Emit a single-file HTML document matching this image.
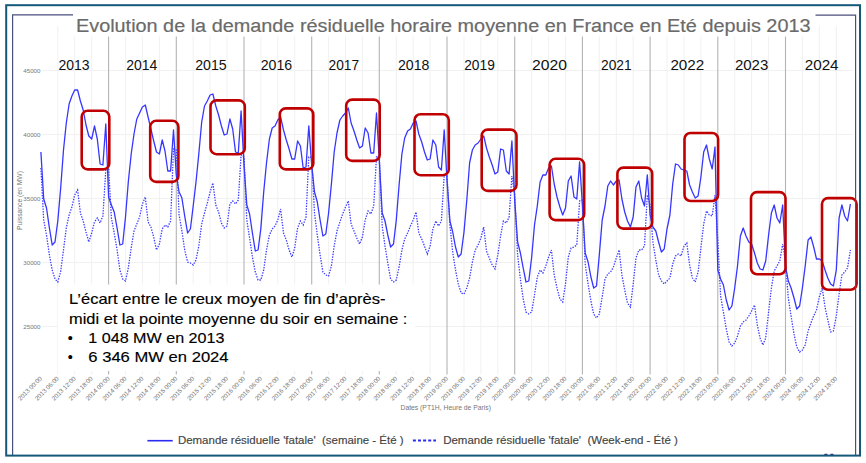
<!DOCTYPE html><html><head><meta charset="utf-8"><style>html,body{margin:0;padding:0;background:#fff;}body{width:866px;height:463px;overflow:hidden;}svg{display:block;}text{font-family:"Liberation Sans",sans-serif;}</style></head><body>
<svg width="866" height="463" viewBox="0 0 866 463">
<rect x="0" y="0" width="866" height="463" fill="#fff"/>
<line x1="42" y1="70.5" x2="853" y2="70.5" stroke="#f1f1f1" stroke-width="1"/>
<line x1="42" y1="134.5" x2="853" y2="134.5" stroke="#f1f1f1" stroke-width="1"/>
<line x1="42" y1="198.5" x2="853" y2="198.5" stroke="#f1f1f1" stroke-width="1"/>
<line x1="42" y1="262.5" x2="853" y2="262.5" stroke="#f1f1f1" stroke-width="1"/>
<line x1="42" y1="326.5" x2="853" y2="326.5" stroke="#f1f1f1" stroke-width="1"/>
<line x1="57.8" y1="26" x2="57.8" y2="374.5" stroke="#f1f1f1" stroke-width="1"/>
<line x1="74.7" y1="26" x2="74.7" y2="374.5" stroke="#f1f1f1" stroke-width="1"/>
<line x1="91.7" y1="26" x2="91.7" y2="374.5" stroke="#f1f1f1" stroke-width="1"/>
<line x1="125.5" y1="26" x2="125.5" y2="374.5" stroke="#f1f1f1" stroke-width="1"/>
<line x1="142.4" y1="26" x2="142.4" y2="374.5" stroke="#f1f1f1" stroke-width="1"/>
<line x1="159.4" y1="26" x2="159.4" y2="374.5" stroke="#f1f1f1" stroke-width="1"/>
<line x1="193.2" y1="26" x2="193.2" y2="374.5" stroke="#f1f1f1" stroke-width="1"/>
<line x1="210.1" y1="26" x2="210.1" y2="374.5" stroke="#f1f1f1" stroke-width="1"/>
<line x1="227" y1="26" x2="227" y2="374.5" stroke="#f1f1f1" stroke-width="1"/>
<line x1="260.9" y1="26" x2="260.9" y2="374.5" stroke="#f1f1f1" stroke-width="1"/>
<line x1="277.8" y1="26" x2="277.8" y2="374.5" stroke="#f1f1f1" stroke-width="1"/>
<line x1="294.7" y1="26" x2="294.7" y2="374.5" stroke="#f1f1f1" stroke-width="1"/>
<line x1="328.6" y1="26" x2="328.6" y2="374.5" stroke="#f1f1f1" stroke-width="1"/>
<line x1="345.5" y1="26" x2="345.5" y2="374.5" stroke="#f1f1f1" stroke-width="1"/>
<line x1="362.4" y1="26" x2="362.4" y2="374.5" stroke="#f1f1f1" stroke-width="1"/>
<line x1="396.3" y1="26" x2="396.3" y2="374.5" stroke="#f1f1f1" stroke-width="1"/>
<line x1="413.2" y1="26" x2="413.2" y2="374.5" stroke="#f1f1f1" stroke-width="1"/>
<line x1="430.1" y1="26" x2="430.1" y2="374.5" stroke="#f1f1f1" stroke-width="1"/>
<line x1="464" y1="26" x2="464" y2="374.5" stroke="#f1f1f1" stroke-width="1"/>
<line x1="480.9" y1="26" x2="480.9" y2="374.5" stroke="#f1f1f1" stroke-width="1"/>
<line x1="497.8" y1="26" x2="497.8" y2="374.5" stroke="#f1f1f1" stroke-width="1"/>
<line x1="531.7" y1="26" x2="531.7" y2="374.5" stroke="#f1f1f1" stroke-width="1"/>
<line x1="548.6" y1="26" x2="548.6" y2="374.5" stroke="#f1f1f1" stroke-width="1"/>
<line x1="565.5" y1="26" x2="565.5" y2="374.5" stroke="#f1f1f1" stroke-width="1"/>
<line x1="599.3" y1="26" x2="599.3" y2="374.5" stroke="#f1f1f1" stroke-width="1"/>
<line x1="616.3" y1="26" x2="616.3" y2="374.5" stroke="#f1f1f1" stroke-width="1"/>
<line x1="633.2" y1="26" x2="633.2" y2="374.5" stroke="#f1f1f1" stroke-width="1"/>
<line x1="667" y1="26" x2="667" y2="374.5" stroke="#f1f1f1" stroke-width="1"/>
<line x1="684" y1="26" x2="684" y2="374.5" stroke="#f1f1f1" stroke-width="1"/>
<line x1="700.9" y1="26" x2="700.9" y2="374.5" stroke="#f1f1f1" stroke-width="1"/>
<line x1="734.7" y1="26" x2="734.7" y2="374.5" stroke="#f1f1f1" stroke-width="1"/>
<line x1="751.6" y1="26" x2="751.6" y2="374.5" stroke="#f1f1f1" stroke-width="1"/>
<line x1="768.6" y1="26" x2="768.6" y2="374.5" stroke="#f1f1f1" stroke-width="1"/>
<line x1="802.4" y1="26" x2="802.4" y2="374.5" stroke="#f1f1f1" stroke-width="1"/>
<line x1="819.3" y1="26" x2="819.3" y2="374.5" stroke="#f1f1f1" stroke-width="1"/>
<line x1="836.3" y1="26" x2="836.3" y2="374.5" stroke="#f1f1f1" stroke-width="1"/>
<line x1="108.6" y1="26" x2="108.6" y2="374.5" stroke="#b4b4b4" stroke-width="1.1"/>
<line x1="176.3" y1="26" x2="176.3" y2="374.5" stroke="#b4b4b4" stroke-width="1.1"/>
<line x1="244" y1="26" x2="244" y2="374.5" stroke="#b4b4b4" stroke-width="1.1"/>
<line x1="311.7" y1="26" x2="311.7" y2="374.5" stroke="#b4b4b4" stroke-width="1.1"/>
<line x1="379.3" y1="26" x2="379.3" y2="374.5" stroke="#b4b4b4" stroke-width="1.1"/>
<line x1="447" y1="26" x2="447" y2="374.5" stroke="#b4b4b4" stroke-width="1.1"/>
<line x1="514.7" y1="26" x2="514.7" y2="374.5" stroke="#b4b4b4" stroke-width="1.1"/>
<line x1="582.4" y1="26" x2="582.4" y2="374.5" stroke="#b4b4b4" stroke-width="1.1"/>
<line x1="650.1" y1="26" x2="650.1" y2="374.5" stroke="#b4b4b4" stroke-width="1.1"/>
<line x1="717.8" y1="26" x2="717.8" y2="374.5" stroke="#b4b4b4" stroke-width="1.1"/>
<line x1="785.5" y1="26" x2="785.5" y2="374.5" stroke="#b4b4b4" stroke-width="1.1"/>
<path d="M40.9 152 L43.7 199 L46.5 208 L49.4 228 L52.2 245 L55 242 L57.8 221 L60.6 189 L63.5 150 L66.3 123 L69.1 104 L71.9 96 L74.7 90 L77.6 90 L80.4 101 L83.2 110 L86 125 L88.8 136 L91.7 139 L94.5 126 L97.3 139 L100.1 164 L102.9 165 L105.8 124 L108.6 197 L111.4 205 L114.2 212 L117.1 228 L119.9 245 L122.7 244 L125.5 217 L128.3 182 L131.2 154 L134 134 L136.8 119 L139.6 113 L142.4 107 L145.3 105 L148.1 117 L150.9 129 L153.7 141 L156.5 152 L159.4 154 L162.2 140 L165 151 L167.8 171 L170.6 171 L173.5 130 L176.3 175 L179.1 192 L181.9 198 L184.7 216 L187.6 233 L190.4 229 L193.2 206 L196 182 L198.8 154 L201.7 122 L204.5 106 L207.3 101 L210.1 95 L212.9 94 L215.8 106 L218.6 115 L221.4 126 L224.2 135 L227 134 L229.9 119 L232.7 129 L235.5 152 L238.3 153 L241.1 111 L244 165 L246.8 205 L249.6 214 L252.4 233 L255.3 251 L258.1 250 L260.9 228 L263.7 192 L266.5 163 L269.4 139 L272.2 128 L275 126 L277.8 120 L280.6 117 L283.5 130 L286.3 140 L289.1 149 L291.9 159 L294.7 159 L297.6 141 L300.4 146 L303.2 168 L306 167 L308.8 126 L311.7 165 L314.5 192 L317.3 202 L320.1 220 L322.9 236 L325.8 234 L328.6 213 L331.4 184 L334.2 152 L337 133 L339.9 120 L342.7 116 L345.5 113 L348.3 108 L351.1 123 L354 131 L356.8 140 L359.6 148 L362.4 146 L365.2 128 L368.1 133 L370.9 153 L373.7 153 L376.5 113 L379.3 160 L382.2 213 L385 221 L387.8 235 L390.6 247 L393.5 244 L396.3 220 L399.1 185 L401.9 154 L404.7 138 L407.6 131 L410.4 129 L413.2 123 L416 121 L418.8 134 L421.7 142 L424.5 152 L427.3 160 L430.1 159 L432.9 140 L435.8 145 L438.6 167 L441.4 170 L444.2 130 L447 180 L449.9 221 L452.7 232 L455.5 247 L458.3 257 L461.1 254 L464 232 L466.8 200 L469.6 163 L472.4 150 L475.2 145 L478.1 143 L480.9 139 L483.7 136 L486.5 148 L489.3 157 L492.2 165 L495 174 L497.8 172 L500.6 149 L503.4 150 L506.3 171 L509.1 174 L511.9 141 L514.7 200 L517.6 242 L520.4 253 L523.2 268 L526 282 L528.8 281 L531.7 257 L534.5 225 L537.3 206 L540.1 182 L542.9 175 L545.8 175 L548.6 168 L551.4 166 L554.2 184 L557 197 L559.9 207 L562.7 215 L565.5 208 L568.3 181 L571.1 176 L574 197 L576.8 199 L579.6 162 L582.4 205 L585.2 253 L588.1 262 L590.9 277 L593.7 288 L596.5 286 L599.3 255 L602.2 220 L605 206 L607.8 186 L610.6 181 L613.4 185 L616.3 181 L619.1 180 L621.9 199 L624.7 212 L627.5 221 L630.4 227 L633.2 217 L636 187 L638.8 181 L641.6 198 L644.5 206 L647.3 175 L650.1 215 L652.9 227 L655.8 231 L658.6 242 L661.4 252 L664.2 249 L667 229 L669.9 215 L672.7 184 L675.5 164 L678.3 165 L681.1 169 L684 170 L686.8 171 L689.6 185 L692.4 192 L695.2 198 L698.1 196 L700.9 177 L703.7 152 L706.5 145 L709.3 159 L712.2 169 L715 147 L717.8 270 L720.6 279 L723.4 285 L726.3 300 L729.1 310 L731.9 306 L734.7 288 L737.5 266 L740.4 236 L743.2 228 L746 236 L748.8 242 L751.6 244 L754.5 253 L757.3 263 L760.1 269 L762.9 270 L765.7 261 L768.6 235 L771.4 213 L774.2 205 L777 218 L779.8 223 L782.7 205 L785.5 266 L788.3 281 L791.1 288 L794 298 L796.8 309 L799.6 306 L802.4 288 L805.2 266 L808.1 240 L810.9 237 L813.7 247 L816.5 259 L819.3 259 L822.2 261 L825 270 L827.8 278 L830.6 284 L833.4 286 L836.3 270 L839.1 218 L841.9 205 L844.7 216 L847.5 221 L850.4 204" fill="none" stroke="#3636ff" stroke-width="1.3" stroke-linejoin="round"/>
<path d="M40.9 168 L43.7 220 L46.5 235 L49.4 255 L52.2 270 L55 279 L57.8 282 L60.6 272 L63.5 250 L66.3 228 L69.1 215 L71.9 207 L74.7 195 L77.6 190 L80.4 213 L83.2 221 L86 232 L88.8 242 L91.7 233 L94.5 222 L97.3 218 L100.1 223 L102.9 216 L105.8 170 L108.6 168 L111.4 218 L114.2 233 L117.1 250 L119.9 270 L122.7 279 L125.5 281 L128.3 268 L131.2 248 L134 231 L136.8 224 L139.6 217 L142.4 204 L145.3 197 L148.1 222 L150.9 227 L153.7 237 L156.5 250 L159.4 244 L162.2 229 L165 225 L167.8 227 L170.6 221 L173.5 149 L176.3 150 L179.1 215 L181.9 231 L184.7 250 L187.6 262 L190.4 263 L193.2 265 L196 260 L198.8 246 L201.7 224 L204.5 213 L207.3 203 L210.1 192 L212.9 183 L215.8 205 L218.6 212 L221.4 223 L224.2 228 L227 226 L229.9 204 L232.7 201 L235.5 204 L238.3 200 L241.1 155 L244 157 L246.8 220 L249.6 238 L252.4 257 L255.3 272 L258.1 280 L260.9 280 L263.7 270 L266.5 250 L269.4 235 L272.2 229 L275 226 L277.8 220 L280.6 209 L283.5 233 L286.3 240 L289.1 250 L291.9 257 L294.7 248 L297.6 228 L300.4 221 L303.2 225 L306 217 L308.8 157 L311.7 157 L314.5 213 L317.3 235 L320.1 255 L322.9 272 L325.8 275 L328.6 276 L331.4 266 L334.2 246 L337 231 L339.9 222 L342.7 214 L345.5 207 L348.3 201 L351.1 224 L354 231 L356.8 238 L359.6 244 L362.4 237 L365.2 220 L368.1 211 L370.9 214 L373.7 206 L376.5 157 L379.3 157 L382.2 226 L385 246 L387.8 263 L390.6 279 L393.5 282 L396.3 280 L399.1 267 L401.9 250 L404.7 239 L407.6 233 L410.4 226 L413.2 220 L416 212 L418.8 233 L421.7 239 L424.5 246 L427.3 254 L430.1 246 L432.9 229 L435.8 221 L438.6 226 L441.4 221 L444.2 175 L447 176 L449.9 225 L452.7 252 L455.5 270 L458.3 284 L461.1 293 L464 294 L466.8 288 L469.6 278 L472.4 262 L475.2 250 L478.1 245 L480.9 238 L483.7 227 L486.5 251 L489.3 258 L492.2 265 L495 269 L497.8 255 L500.6 236 L503.4 221 L506.3 223 L509.1 217 L511.9 176 L514.7 195 L517.6 255 L520.4 279 L523.2 299 L526 312 L528.8 314 L531.7 312 L534.5 295 L537.3 277 L540.1 270 L542.9 273 L545.8 266 L548.6 257 L551.4 250 L554.2 275 L557 288 L559.9 299 L562.7 302 L565.5 284 L568.3 257 L571.1 248 L574 247 L576.8 245 L579.6 201 L582.4 200 L585.2 264 L588.1 284 L590.9 301 L593.7 314 L596.5 318 L599.3 314 L602.2 297 L605 279 L607.8 274 L610.6 272 L613.4 267 L616.3 258 L619.1 250 L621.9 275 L624.7 290 L627.5 303 L630.4 307 L633.2 284 L636 258 L638.8 250 L641.6 250 L644.5 246 L647.3 195 L650.1 205 L652.9 242 L655.8 260 L658.6 275 L661.4 281 L664.2 284 L667 281 L669.9 278 L672.7 264 L675.5 256 L678.3 254 L681.1 256 L684 246 L686.8 243 L689.6 265 L692.4 278 L695.2 282 L698.1 272 L700.9 248 L703.7 224 L706.5 211 L709.3 215 L712.2 216 L715 195 L717.8 240 L720.6 296 L723.4 312 L726.3 329 L729.1 342 L731.9 346 L734.7 343 L737.5 336 L740.4 326 L743.2 322 L746 320 L748.8 316 L751.6 311 L754.5 305 L757.3 325 L760.1 338 L762.9 345 L765.7 338 L768.6 312 L771.4 288 L774.2 271 L777 266 L779.8 261 L782.7 244 L785.5 262 L788.3 298 L791.1 316 L794 334 L796.8 347 L799.6 352 L802.4 350 L805.2 345 L808.1 331 L810.9 323 L813.7 316 L816.5 310 L819.3 297 L822.2 288 L825 307 L827.8 320 L830.6 332 L833.4 331 L836.3 316 L839.1 294 L841.9 275 L844.7 272 L847.5 268 L850.4 250" fill="none" stroke="#3c3cff" stroke-width="1.3" stroke-dasharray="1.4 1.3"/>
<rect x="72" y="0" width="744" height="36.5" fill="#fff"/>
<rect x="58" y="284.5" width="357" height="86.5" fill="#fff"/>
<text x="40.5" y="72.7" font-size="6.2" fill="#777" text-anchor="end">45000</text>
<text x="40.5" y="136.7" font-size="6.2" fill="#777" text-anchor="end">40000</text>
<text x="40.5" y="200.7" font-size="6.2" fill="#777" text-anchor="end">35000</text>
<text x="40.5" y="264.7" font-size="6.2" fill="#777" text-anchor="end">30000</text>
<text x="40.5" y="328.7" font-size="6.2" fill="#777" text-anchor="end">25000</text>
<text transform="translate(21.8 200.5) rotate(-90)" font-size="6.6" fill="#777" text-anchor="middle" textLength="59" lengthAdjust="spacingAndGlyphs">Puissance (en MW)</text>
<text transform="translate(42.4 379) rotate(-45)" font-size="6.2" fill="#6e6e6e" text-anchor="end" textLength="31" lengthAdjust="spacingAndGlyphs">2013 00:00</text>
<text transform="translate(59.3 379) rotate(-45)" font-size="6.2" fill="#6e6e6e" text-anchor="end" textLength="31" lengthAdjust="spacingAndGlyphs">2013 06:00</text>
<text transform="translate(76.2 379) rotate(-45)" font-size="6.2" fill="#6e6e6e" text-anchor="end" textLength="31" lengthAdjust="spacingAndGlyphs">2013 12:00</text>
<text transform="translate(93.2 379) rotate(-45)" font-size="6.2" fill="#6e6e6e" text-anchor="end" textLength="31" lengthAdjust="spacingAndGlyphs">2013 18:00</text>
<text transform="translate(110.1 379) rotate(-45)" font-size="6.2" fill="#6e6e6e" text-anchor="end" textLength="31" lengthAdjust="spacingAndGlyphs">2014 00:00</text>
<text transform="translate(127 379) rotate(-45)" font-size="6.2" fill="#6e6e6e" text-anchor="end" textLength="31" lengthAdjust="spacingAndGlyphs">2014 06:00</text>
<text transform="translate(143.9 379) rotate(-45)" font-size="6.2" fill="#6e6e6e" text-anchor="end" textLength="31" lengthAdjust="spacingAndGlyphs">2014 12:00</text>
<text transform="translate(160.9 379) rotate(-45)" font-size="6.2" fill="#6e6e6e" text-anchor="end" textLength="31" lengthAdjust="spacingAndGlyphs">2014 18:00</text>
<text transform="translate(177.8 379) rotate(-45)" font-size="6.2" fill="#6e6e6e" text-anchor="end" textLength="31" lengthAdjust="spacingAndGlyphs">2015 00:00</text>
<text transform="translate(194.7 379) rotate(-45)" font-size="6.2" fill="#6e6e6e" text-anchor="end" textLength="31" lengthAdjust="spacingAndGlyphs">2015 06:00</text>
<text transform="translate(211.6 379) rotate(-45)" font-size="6.2" fill="#6e6e6e" text-anchor="end" textLength="31" lengthAdjust="spacingAndGlyphs">2015 12:00</text>
<text transform="translate(228.5 379) rotate(-45)" font-size="6.2" fill="#6e6e6e" text-anchor="end" textLength="31" lengthAdjust="spacingAndGlyphs">2015 18:00</text>
<text transform="translate(245.5 379) rotate(-45)" font-size="6.2" fill="#6e6e6e" text-anchor="end" textLength="31" lengthAdjust="spacingAndGlyphs">2016 00:00</text>
<text transform="translate(262.4 379) rotate(-45)" font-size="6.2" fill="#6e6e6e" text-anchor="end" textLength="31" lengthAdjust="spacingAndGlyphs">2016 06:00</text>
<text transform="translate(279.3 379) rotate(-45)" font-size="6.2" fill="#6e6e6e" text-anchor="end" textLength="31" lengthAdjust="spacingAndGlyphs">2016 12:00</text>
<text transform="translate(296.2 379) rotate(-45)" font-size="6.2" fill="#6e6e6e" text-anchor="end" textLength="31" lengthAdjust="spacingAndGlyphs">2016 18:00</text>
<text transform="translate(313.2 379) rotate(-45)" font-size="6.2" fill="#6e6e6e" text-anchor="end" textLength="31" lengthAdjust="spacingAndGlyphs">2017 00:00</text>
<text transform="translate(330.1 379) rotate(-45)" font-size="6.2" fill="#6e6e6e" text-anchor="end" textLength="31" lengthAdjust="spacingAndGlyphs">2017 06:00</text>
<text transform="translate(347 379) rotate(-45)" font-size="6.2" fill="#6e6e6e" text-anchor="end" textLength="31" lengthAdjust="spacingAndGlyphs">2017 12:00</text>
<text transform="translate(363.9 379) rotate(-45)" font-size="6.2" fill="#6e6e6e" text-anchor="end" textLength="31" lengthAdjust="spacingAndGlyphs">2017 18:00</text>
<text transform="translate(380.8 379) rotate(-45)" font-size="6.2" fill="#6e6e6e" text-anchor="end" textLength="31" lengthAdjust="spacingAndGlyphs">2018 00:00</text>
<text transform="translate(397.8 379) rotate(-45)" font-size="6.2" fill="#6e6e6e" text-anchor="end" textLength="31" lengthAdjust="spacingAndGlyphs">2018 06:00</text>
<text transform="translate(414.7 379) rotate(-45)" font-size="6.2" fill="#6e6e6e" text-anchor="end" textLength="31" lengthAdjust="spacingAndGlyphs">2018 12:00</text>
<text transform="translate(431.6 379) rotate(-45)" font-size="6.2" fill="#6e6e6e" text-anchor="end" textLength="31" lengthAdjust="spacingAndGlyphs">2018 18:00</text>
<text transform="translate(448.5 379) rotate(-45)" font-size="6.2" fill="#6e6e6e" text-anchor="end" textLength="31" lengthAdjust="spacingAndGlyphs">2019 00:00</text>
<text transform="translate(465.5 379) rotate(-45)" font-size="6.2" fill="#6e6e6e" text-anchor="end" textLength="31" lengthAdjust="spacingAndGlyphs">2019 06:00</text>
<text transform="translate(482.4 379) rotate(-45)" font-size="6.2" fill="#6e6e6e" text-anchor="end" textLength="31" lengthAdjust="spacingAndGlyphs">2019 12:00</text>
<text transform="translate(499.3 379) rotate(-45)" font-size="6.2" fill="#6e6e6e" text-anchor="end" textLength="31" lengthAdjust="spacingAndGlyphs">2019 18:00</text>
<text transform="translate(516.2 379) rotate(-45)" font-size="6.2" fill="#6e6e6e" text-anchor="end" textLength="31" lengthAdjust="spacingAndGlyphs">2020 00:00</text>
<text transform="translate(533.2 379) rotate(-45)" font-size="6.2" fill="#6e6e6e" text-anchor="end" textLength="31" lengthAdjust="spacingAndGlyphs">2020 06:00</text>
<text transform="translate(550.1 379) rotate(-45)" font-size="6.2" fill="#6e6e6e" text-anchor="end" textLength="31" lengthAdjust="spacingAndGlyphs">2020 12:00</text>
<text transform="translate(567 379) rotate(-45)" font-size="6.2" fill="#6e6e6e" text-anchor="end" textLength="31" lengthAdjust="spacingAndGlyphs">2020 18:00</text>
<text transform="translate(583.9 379) rotate(-45)" font-size="6.2" fill="#6e6e6e" text-anchor="end" textLength="31" lengthAdjust="spacingAndGlyphs">2021 00:00</text>
<text transform="translate(600.8 379) rotate(-45)" font-size="6.2" fill="#6e6e6e" text-anchor="end" textLength="31" lengthAdjust="spacingAndGlyphs">2021 06:00</text>
<text transform="translate(617.8 379) rotate(-45)" font-size="6.2" fill="#6e6e6e" text-anchor="end" textLength="31" lengthAdjust="spacingAndGlyphs">2021 12:00</text>
<text transform="translate(634.7 379) rotate(-45)" font-size="6.2" fill="#6e6e6e" text-anchor="end" textLength="31" lengthAdjust="spacingAndGlyphs">2021 18:00</text>
<text transform="translate(651.6 379) rotate(-45)" font-size="6.2" fill="#6e6e6e" text-anchor="end" textLength="31" lengthAdjust="spacingAndGlyphs">2022 00:00</text>
<text transform="translate(668.5 379) rotate(-45)" font-size="6.2" fill="#6e6e6e" text-anchor="end" textLength="31" lengthAdjust="spacingAndGlyphs">2022 06:00</text>
<text transform="translate(685.5 379) rotate(-45)" font-size="6.2" fill="#6e6e6e" text-anchor="end" textLength="31" lengthAdjust="spacingAndGlyphs">2022 12:00</text>
<text transform="translate(702.4 379) rotate(-45)" font-size="6.2" fill="#6e6e6e" text-anchor="end" textLength="31" lengthAdjust="spacingAndGlyphs">2022 18:00</text>
<text transform="translate(719.3 379) rotate(-45)" font-size="6.2" fill="#6e6e6e" text-anchor="end" textLength="31" lengthAdjust="spacingAndGlyphs">2023 00:00</text>
<text transform="translate(736.2 379) rotate(-45)" font-size="6.2" fill="#6e6e6e" text-anchor="end" textLength="31" lengthAdjust="spacingAndGlyphs">2023 06:00</text>
<text transform="translate(753.1 379) rotate(-45)" font-size="6.2" fill="#6e6e6e" text-anchor="end" textLength="31" lengthAdjust="spacingAndGlyphs">2023 12:00</text>
<text transform="translate(770.1 379) rotate(-45)" font-size="6.2" fill="#6e6e6e" text-anchor="end" textLength="31" lengthAdjust="spacingAndGlyphs">2023 18:00</text>
<text transform="translate(787 379) rotate(-45)" font-size="6.2" fill="#6e6e6e" text-anchor="end" textLength="31" lengthAdjust="spacingAndGlyphs">2024 00:00</text>
<text transform="translate(803.9 379) rotate(-45)" font-size="6.2" fill="#6e6e6e" text-anchor="end" textLength="31" lengthAdjust="spacingAndGlyphs">2024 06:00</text>
<text transform="translate(820.8 379) rotate(-45)" font-size="6.2" fill="#6e6e6e" text-anchor="end" textLength="31" lengthAdjust="spacingAndGlyphs">2024 12:00</text>
<text transform="translate(837.8 379) rotate(-45)" font-size="6.2" fill="#6e6e6e" text-anchor="end" textLength="31" lengthAdjust="spacingAndGlyphs">2024 18:00</text>
<text x="400.5" y="409.7" font-size="6.8" fill="#777" textLength="90.5" lengthAdjust="spacingAndGlyphs">Dates (PT1H, Heure de Paris)</text>
<text x="58.4" y="70.3" font-size="14.2" fill="#111" textLength="31.1" lengthAdjust="spacingAndGlyphs">2013</text>
<text x="126.3" y="70.3" font-size="14.2" fill="#111" textLength="31.1" lengthAdjust="spacingAndGlyphs">2014</text>
<text x="195.2" y="70.3" font-size="14.2" fill="#111" textLength="31.5" lengthAdjust="spacingAndGlyphs">2015</text>
<text x="260.7" y="70.3" font-size="14.2" fill="#111" textLength="31.5" lengthAdjust="spacingAndGlyphs">2016</text>
<text x="328.6" y="70.3" font-size="14.2" fill="#111" textLength="30.5" lengthAdjust="spacingAndGlyphs">2017</text>
<text x="397.9" y="70.3" font-size="14.2" fill="#111" textLength="31.5" lengthAdjust="spacingAndGlyphs">2018</text>
<text x="464.2" y="70.3" font-size="14.2" fill="#111" textLength="30.6" lengthAdjust="spacingAndGlyphs">2019</text>
<text x="532.1" y="70.3" font-size="14.2" fill="#111" textLength="34.9" lengthAdjust="spacingAndGlyphs">2020</text>
<text x="601" y="70.3" font-size="14.2" fill="#111" textLength="30.6" lengthAdjust="spacingAndGlyphs">2021</text>
<text x="670.4" y="70.3" font-size="14.2" fill="#111" textLength="33.9" lengthAdjust="spacingAndGlyphs">2022</text>
<text x="734.9" y="70.3" font-size="14.2" fill="#111" textLength="33.4" lengthAdjust="spacingAndGlyphs">2023</text>
<text x="804.7" y="70.3" font-size="14.2" fill="#111" textLength="33.9" lengthAdjust="spacingAndGlyphs">2024</text>
<rect x="81.7" y="110.8" width="27.6" height="58.6" rx="6" ry="6" fill="none" stroke="#c00000" stroke-width="2.6"/>
<rect x="150.2" y="120.8" width="28.2" height="61.1" rx="6" ry="6" fill="none" stroke="#c00000" stroke-width="2.6"/>
<rect x="210.5" y="100.4" width="34.3" height="53.8" rx="6" ry="6" fill="none" stroke="#c00000" stroke-width="2.6"/>
<rect x="279.8" y="108.4" width="33.5" height="61" rx="6" ry="6" fill="none" stroke="#c00000" stroke-width="2.6"/>
<rect x="346.2" y="99.6" width="33.5" height="61.3" rx="6" ry="6" fill="none" stroke="#c00000" stroke-width="2.6"/>
<rect x="414.5" y="114.2" width="34.3" height="61" rx="6" ry="6" fill="none" stroke="#c00000" stroke-width="2.6"/>
<rect x="481.7" y="129.6" width="34.8" height="61.3" rx="6" ry="6" fill="none" stroke="#c00000" stroke-width="2.6"/>
<rect x="549.6" y="158.8" width="34.6" height="61.3" rx="6" ry="6" fill="none" stroke="#c00000" stroke-width="2.6"/>
<rect x="617.4" y="167.6" width="34.8" height="61" rx="6" ry="6" fill="none" stroke="#c00000" stroke-width="2.6"/>
<rect x="684.5" y="133" width="33.6" height="68" rx="6" ry="6" fill="none" stroke="#c00000" stroke-width="2.6"/>
<rect x="751" y="192.1" width="34.5" height="82.2" rx="6" ry="6" fill="none" stroke="#c00000" stroke-width="2.6"/>
<rect x="822" y="198.1" width="34.6" height="91.7" rx="6" ry="6" fill="none" stroke="#c00000" stroke-width="2.6"/>
<text x="76" y="31.5" font-size="17.6" fill="#6a6a6a" stroke="#6a6a6a" stroke-width="0.18" textLength="734.5" lengthAdjust="spacingAndGlyphs">Evolution de la demande résiduelle horaire moyenne en France en Eté depuis 2013</text>
<text x="69.1" y="303.9" font-size="14.3" fill="#000" stroke="#000" stroke-width="0.15" textLength="316.4" lengthAdjust="spacingAndGlyphs">L’écart entre le creux moyen de fin d’après-</text>
<text x="69.1" y="323.7" font-size="14.3" fill="#000" stroke="#000" stroke-width="0.15" textLength="338.3" lengthAdjust="spacingAndGlyphs">midi et la pointe moyenne du soir en semaine :</text>
<text x="67.8" y="343" font-size="14.3" fill="#000" stroke="#000" stroke-width="0.15">•</text>
<text x="88.3" y="343" font-size="14.3" fill="#000" stroke="#000" stroke-width="0.15" textLength="136.1" lengthAdjust="spacingAndGlyphs">1 048 MW en 2013</text>
<text x="67.8" y="362.1" font-size="14.3" fill="#000" stroke="#000" stroke-width="0.15">•</text>
<text x="88.3" y="362.1" font-size="14.3" fill="#000" stroke="#000" stroke-width="0.15" textLength="140.3" lengthAdjust="spacingAndGlyphs">6 346 MW en 2024</text>
<line x1="147.4" y1="440.7" x2="172.7" y2="440.7" stroke="#2a2af0" stroke-width="1.6"/>
<text x="177.9" y="444.4" font-size="10.8" fill="#444" stroke="#444" stroke-width="0.15" textLength="225.7" lengthAdjust="spacingAndGlyphs">Demande résiduelle 'fatale'&#160; (semaine - Été )</text>
<line x1="412.9" y1="440.6" x2="436" y2="440.6" stroke="#2a2af0" stroke-width="2" stroke-dasharray="3 2.1"/>
<text x="443.2" y="444.4" font-size="10.8" fill="#444" stroke="#444" stroke-width="0.15" textLength="234.7" lengthAdjust="spacingAndGlyphs">Demande résiduelle 'fatale'&#160; (Week-end - Été )</text>
<path d="M73 14.9 H12.6 V455.5" fill="none" stroke="#4b4f7c" stroke-width="1.2"/>
<path d="M815.5 15.1 H855.6 V455.5" fill="none" stroke="#4b4f7c" stroke-width="1.2"/>
<rect x="6.2" y="5.2" width="853.8" height="450.4" fill="none" stroke="#16587a" stroke-width="2"/>
<rect x="824.2" y="453.8" width="3.4" height="1.2" rx="0.6" fill="#2b3f86"/>
<rect x="830.2" y="453.8" width="3.4" height="1.2" rx="0.6" fill="#2b3f86"/>
</svg></body></html>
